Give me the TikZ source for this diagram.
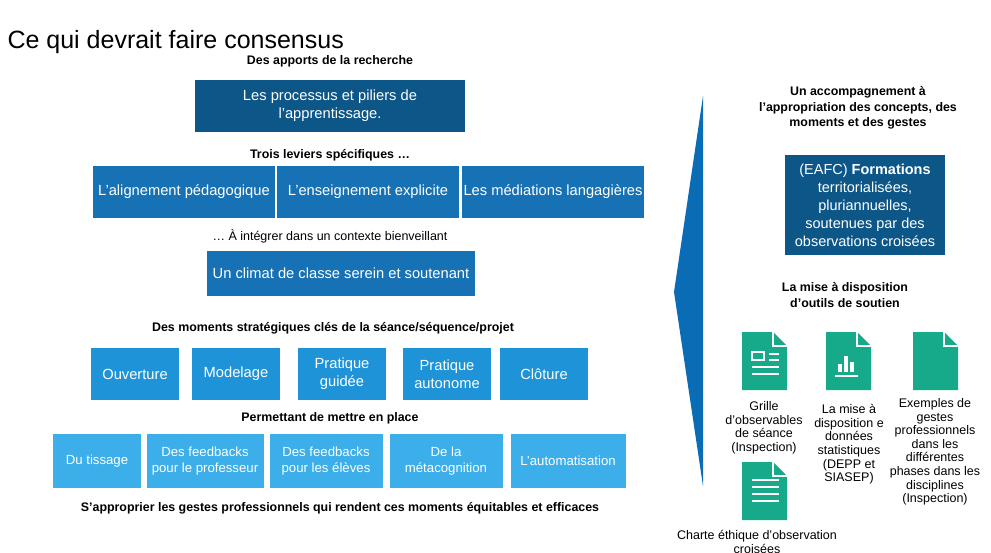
\documentclass[tikz,border=0pt]{standalone}
\usepackage{fontspec}
\setmainfont{Liberation Sans}
\usetikzlibrary{positioning}
\definecolor{darkb}{HTML}{0D5688}
\definecolor{midb}{HTML}{1672B4}
\definecolor{brightb}{HTML}{1E93D8}
\definecolor{lightb}{HTML}{3CAEEA}
\definecolor{wedgeb}{HTML}{0B6CB6}
\definecolor{teal}{HTML}{16A98A}
\tikzset{
  box/.style={fill=#1,text=white,font=\fontsize{14.7}{18}\selectfont,align=center,inner sep=0pt},
  head/.style={font=\fontsize{12.4}{15.5}\selectfont\bfseries,align=center},
  lab/.style={font=\fontsize{12.5}{13.6}\selectfont,align=center},
  docicon/.pic={
    \fill[teal] (0,0) -- (31,0) -- (45,14) -- (45,58) -- (0,58) -- cycle;
    \draw[white,line width=1.2pt] (31,0) -- (31,14) -- (45,14);
  }
}
\begin{document}
\begin{tikzpicture}[x=1pt,y=-1pt]
  \useasboundingbox (0,0) rectangle (991,552);

  \node[anchor=base west,font=\fontsize{25}{28}\selectfont] (title) at (4,48) {Ce qui devrait faire consensus};

  % Recherche
  \node[head] (hrech) at (330,61) {Des apports de la recherche};
  \node[box=darkb,minimum width=270pt,minimum height=52pt] (piliers) at (330,106) {Les processus et piliers de\\l’apprentissage.};
  \node[head] (hlev) at (330,155) {Trois leviers spécifiques …};
  \begin{scope}[every node/.style={box=midb,minimum width=182pt,minimum height=52pt}]
    \node (lev1) at (184,192) {L’alignement pédagogique};
    \node (lev2) at (368,192) {L’enseignement explicite};
    \node (lev3) at (553,192) {Les médiations langagières};
  \end{scope}
  \node[lab] (hctx) at (330,236) {… À intégrer dans un contexte bienveillant};
  \node[box=midb,minimum width=268pt,minimum height=45pt] (climat) at (341,273) {Un climat de classe serein et soutenant};

  % Moments
  \node[head] (hmom) at (333,328) {Des moments stratégiques clés de la séance/séquence/projet};
  \begin{scope}[every node/.style={box=brightb,minimum width=88pt,minimum height=52pt}]
    \node (m1) at (135,374) {Ouverture};
    \node (m2) at (236,374) {Modelage};
    \node (m3) at (342,374) {Pratique\\guidée};
    \node (m4) at (447,374) {Pratique\\autonome};
    \node (m5) at (544,374) {Clôture};
  \end{scope}
  \node[head] (hges) at (330,418) {Permettant de mettre en place};
  \begin{scope}[every node/.style={box=lightb,minimum height=54pt,font=\fontsize{13.2}{16}\selectfont}]
    \node[minimum width=88pt] (g1) at (97,461) {Du tissage};
    \node[minimum width=117pt] (g2) at (205,461) {Des feedbacks\\pour le professeur};
    \node[minimum width=113pt] (g3) at (326,461) {Des feedbacks\\pour les élèves};
    \node[minimum width=113pt] (g4) at (446,461) {De la\\métacognition};
    \node[minimum width=115pt] (g5) at (568,461) {L’automatisation};
  \end{scope}
  \node[head] (hfin) at (340,508) {S’approprier les gestes professionnels qui rendent ces moments équitables et efficaces};

  % Accompagnement
  \fill[wedgeb] (703,96) -- (674,292) -- (703,486) -- cycle;
  \node[head] (hacc) at (858,108) {Un accompagnement à\\l’appropriation des concepts, des\\moments et des gestes};
  \node[box=darkb,minimum width=160pt,minimum height=100pt,font=\fontsize{14.5}{18}\selectfont] (eafc) at (865,205) {(EAFC) \textbf{Formations}\\territorialisées,\\pluriannuelles,\\soutenues par des\\observations croisées};
  \node[head] (hout) at (845,295) {La mise à disposition\\d’outils de soutien};

  % Outils
  \pic (d1) at (742,332) {docicon};
  \pic (d2) at (826,332) {docicon};
  \pic (d3) at (913,332) {docicon};
  \pic (d4) at (742,462) {docicon};
  \begin{scope}[white,line width=2pt]
    \draw (752,352) rectangle (764,360);
    \draw (769,354) -- (779,354) (769,360) -- (779,360) (752,367) -- (779,367) (752,374) -- (779,374);
    \draw[line width=3.5pt] (840,372) -- (840,364) (846,372) -- (846,356) (852,372) -- (852,362);
    \draw (835,376) -- (858,376);
    \foreach \yy in {480,487,494,501} \draw (752,\yy) -- (779,\yy);
  \end{scope}
  \node[lab,anchor=north] (t1) at (764,398) {Grille\\d’observables\\de séance\\(Inspection)};
  \node[lab,anchor=north] (t2) at (849,401) {La mise à\\disposition e\\données\\statistiques\\(DEPP et\\SIASEP)};
  \node[lab,anchor=north] (t3) at (935,395) {Exemples de\\gestes\\professionnels\\dans les\\différentes\\phases dans les\\disciplines\\(Inspection)};
  \node[lab,anchor=north] (t4) at (757,527) {Charte éthique d’observation\\croisées};
\end{tikzpicture}
\end{document}
